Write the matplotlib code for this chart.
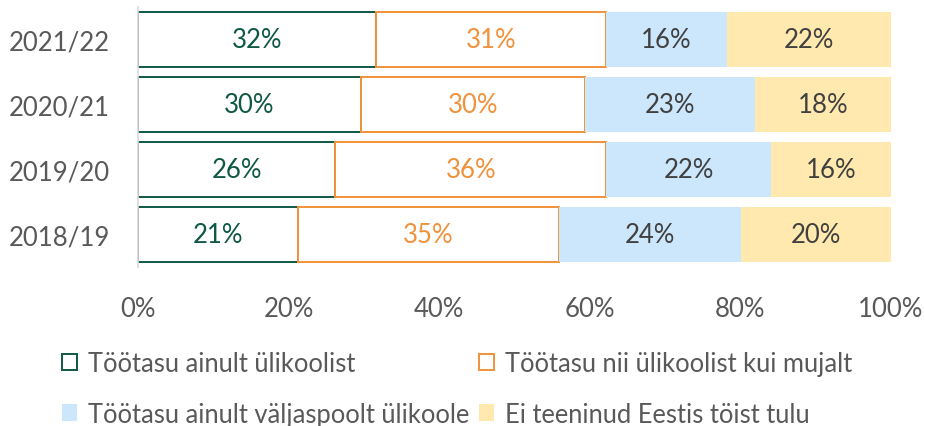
import matplotlib
matplotlib.use("Agg")
import matplotlib.pyplot as plt

plt.rcParams['font.family'] = ['Lato', 'DejaVu Sans']

years = ["2018/19", "2019/20", "2020/21", "2021/22"]
series_names = ["Töötasu ainult ülikoolist",
                "Töötasu nii ülikoolist kui mujalt",
                "Töötasu ainult väljaspoolt ülikoole",
                "Ei teeninud Eestis töist tulu"]
only_uni = [21.2, 26.2, 29.6, 31.6]
uni_and_else = [34.7, 36.0, 29.8, 30.6]
only_outside = [24.2, 21.9, 22.6, 16.0]
no_income = [19.9, 15.9, 18.0, 21.8]
xticks = [0, 20, 40, 60, 80, 100]

series = [only_uni, uni_and_else, only_outside, no_income]
faces = ["white", "white", "#CCE6FB", "#FFE9AE"]
edges = ["#0F5845", "#F0923B", "none", "none"]
txtcol = ["#0F5845", "#F0923B", "#404040", "#404040"]

fig = plt.figure(figsize=(9.25, 4.27), dpi=100)
ax = fig.add_axes([138/925, 1-268/427, (891-138)/925, 260/427])

left = [0.0]*len(years)
handles = []
for vals, fc, ec, tc in zip(series, faces, edges, txtcol):
    b = ax.barh(years, vals, left=left, height=0.84, color=fc,
                edgecolor=ec, linewidth=1.4 if ec != "none" else 0)
    handles.append(b)
    for i, (l, v) in enumerate(zip(left, vals)):
        ax.text(l + v/2, i, f"{round(v):d}%", ha="center", va="center",
                color=tc, fontsize=18.5)
    left = [l + v for l, v in zip(left, vals)]

ax.set_xlim(0, 100)
ax.set_ylim(-0.5, 3.5)
ax.set_xticks(xticks)
ax.set_xticklabels([f"{t}%" for t in xticks])
ax.tick_params(axis='both', length=0, labelsize=18.5, colors="#595959")
ax.tick_params(axis='x', pad=21)
ax.tick_params(axis='y', pad=20)
for s in ["top", "right", "bottom"]:
    ax.spines[s].set_visible(False)
ax.spines["left"].set_color("#D9D9D9")
ax.spines["left"].set_linewidth(1.2)

order = [0, 2, 1, 3]
leg = fig.legend([handles[i] for i in order], [series_names[i] for i in order],
                 ncol=2, loc="upper left", bbox_to_anchor=(62/925, 1-352/427),
                 frameon=False, fontsize=18.4, handlelength=0.6, handleheight=0.6,
                 handletextpad=0.4, columnspacing=0.4, labelspacing=1.0,
                 labelcolor="#595959", borderaxespad=0, borderpad=0)

fig.savefig("out.png", dpi=100)
